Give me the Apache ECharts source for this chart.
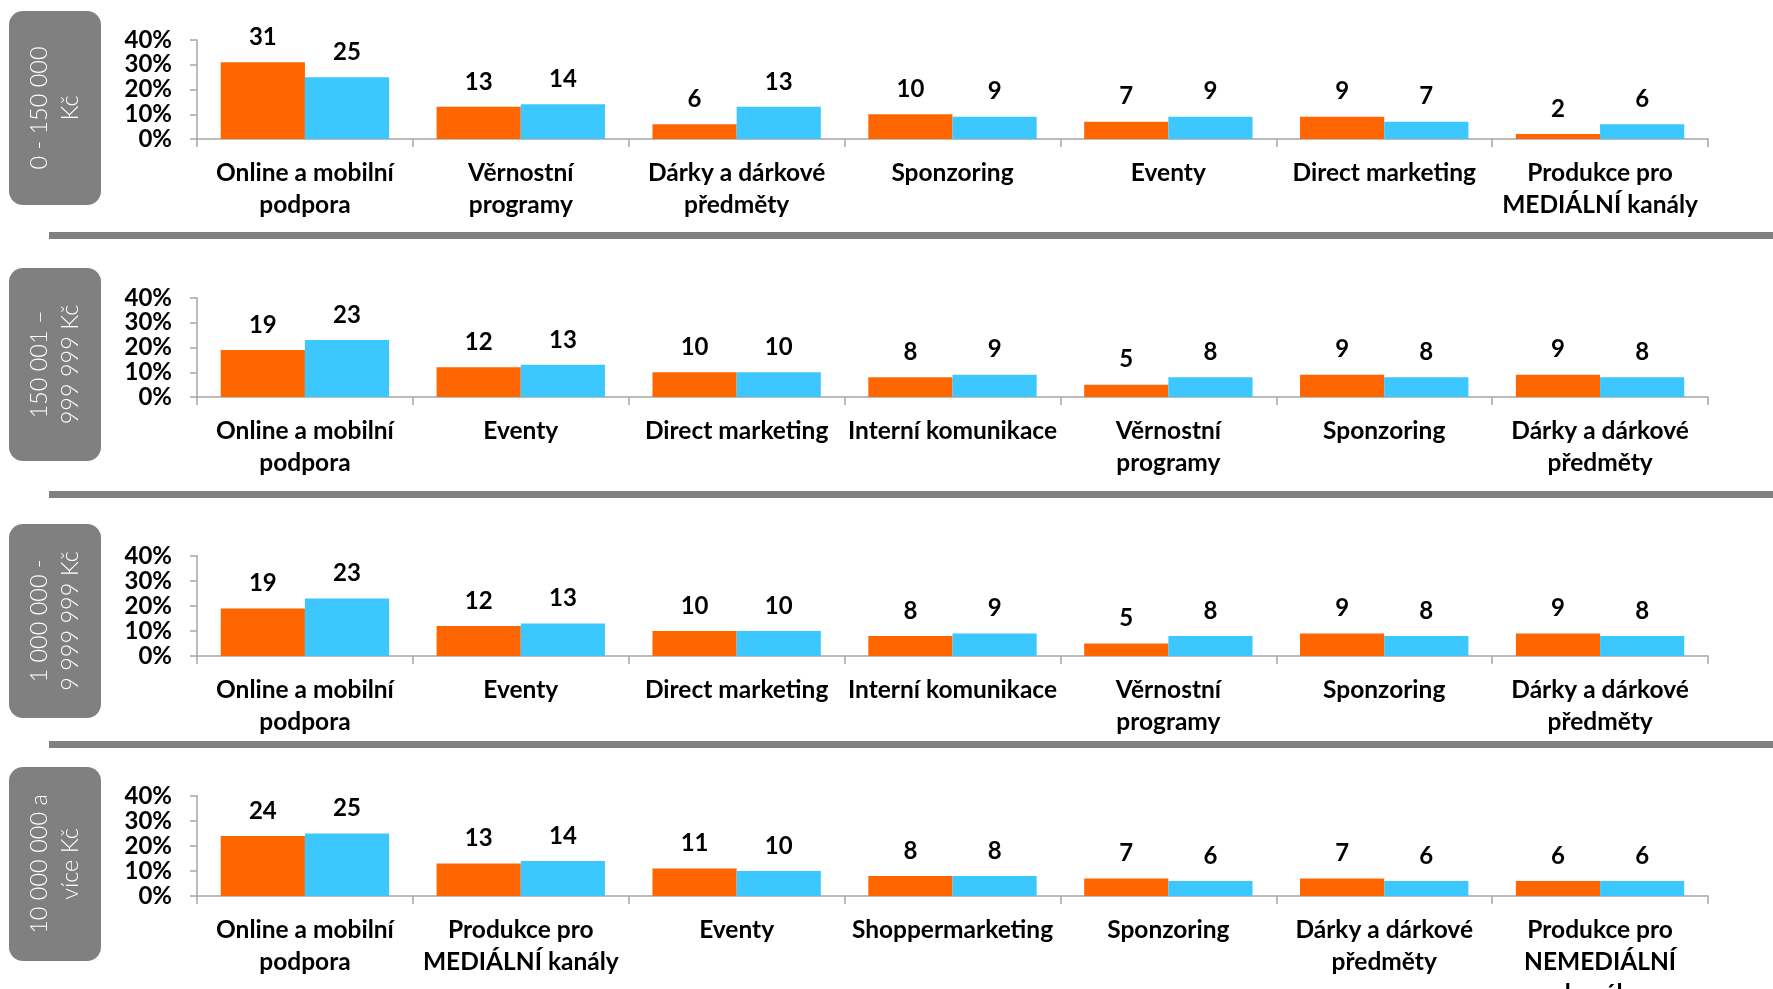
<!DOCTYPE html>
<html>
<head>
<meta charset="utf-8">
<script src="https://cdn.jsdelivr.net/npm/echarts@6/dist/echarts.min.js"></script>
<style>
html,body{margin:0;padding:0;background:#fff;}
#c{width:1773px;height:989px;}
</style>
</head>
<body>
<div id="c"></div>
<script>
// ---- data ----
const panelTitles = [
  "0 - 150 000\nKč",
  "150 001 –\n999 999 Kč",
  "1 000 000 -\n9 999 999 Kč",
  "10 000 000 a\nvíce Kč"
];
const categories1 = ["Online a mobilní\npodpora","Věrnostní\nprogramy","Dárky a dárkové\npředměty","Sponzoring","Eventy","Direct marketing","Produkce pro\nMEDIÁLNÍ kanály"];
const orange1 = [31,13,6,10,7,9,2];
const blue1   = [25,14,13,9,9,7,6];

const categories2 = ["Online a mobilní\npodpora","Eventy","Direct marketing","Interní komunikace","Věrnostní\nprogramy","Sponzoring","Dárky a dárkové\npředměty"];
const orange2 = [19,12,10,8,5,9,9];
const blue2   = [23,13,10,9,8,8,8];

const categories3 = ["Online a mobilní\npodpora","Eventy","Direct marketing","Interní komunikace","Věrnostní\nprogramy","Sponzoring","Dárky a dárkové\npředměty"];
const orange3 = [19,12,10,8,5,9,9];
const blue3   = [23,13,10,9,8,8,8];

const categories4 = ["Online a mobilní\npodpora","Produkce pro\nMEDIÁLNÍ kanály","Eventy","Shoppermarketing","Sponzoring","Dárky a dárkové\npředměty","Produkce pro\nNEMEDIÁLNÍ\nkanály"];
const orange4 = [24,13,11,8,7,7,6];
const blue4   = [25,14,10,8,6,6,6];

const yTicks = [0,10,20,30,40];

// ---- layout ----
const FONT = "Lato, 'Open Sans', sans-serif";
const ORANGE = "#FF6600", BLUE = "#3CC8FF", AXIS = "#A6A6A6", BOXGRAY = "#808080";
const gridTops = [40, 298, 556, 796];
const gridHs = [99, 99, 100, 100];
const boxes = [[11,194],[268,193],[524,194],[767,194]];
const seps = [232, 491, 741];

const panels = [
  [categories1, orange1, blue1],
  [categories2, orange2, blue2],
  [categories3, orange3, blue3],
  [categories4, orange4, blue4]
];

const grid = [], xAxis = [], yAxis = [], series = [];
panels.forEach((p, i) => {
  grid.push({left:197, right:65, top:gridTops[i], height:gridHs[i], containLabel:false, outerBoundsMode:'none'});
  xAxis.push({
    type:'category', gridIndex:i, data:p[0],
    axisLine:{show:true, lineStyle:{color:AXIS, width:1.5}},
    axisTick:{show:true, length:8, lineStyle:{color:AXIS, width:1.5}},
    axisLabel:{interval:0, color:'#000', fontFamily:FONT, fontWeight:'bold', fontSize:24.5, lineHeight:32, margin:18}
  });
  yAxis.push({
    type:'value', gridIndex:i, min:yTicks[0], max:yTicks[yTicks.length-1], interval:10,
    axisLine:{show:true, lineStyle:{color:AXIS, width:1.5}},
    axisTick:{show:true, length:7, lineStyle:{color:AXIS, width:1.5}},
    splitLine:{show:false},
    axisLabel:{formatter:'{value}%', color:'#000', fontFamily:FONT, fontWeight:'bold', fontSize:24, margin:25}
  });
  const lbl = {show:true, position:'top', distance:13, color:'#000', fontFamily:FONT, fontWeight:'bold', fontSize:24, formatter:'{c}'};
  series.push({type:'bar', xAxisIndex:i, yAxisIndex:i, data:p[1], itemStyle:{color:ORANGE}, barGap:'0%', barCategoryGap:'22%', label:lbl, silent:true});
  series.push({type:'bar', xAxisIndex:i, yAxisIndex:i, data:p[2], itemStyle:{color:BLUE}, barGap:'0%', barCategoryGap:'22%', label:lbl, silent:true});
});

const graphic = [];
boxes.forEach((b, i) => {
  graphic.push({type:'rect', left:9, top:b[0], shape:{width:92, height:b[1], r:14}, style:{fill:BOXGRAY}, silent:true});
  graphic.push({type:'text', x:55, y:b[0]+b[1]/2, rotation:Math.PI/2,
    style:{text:panelTitles[i], fill:'#fff', font:"300 23.5px " + FONT, align:'center', verticalAlign:'middle', lineHeight:31}, silent:true});
});
seps.forEach(y => {
  graphic.push({type:'rect', left:49, top:y, shape:{width:1724, height:7}, style:{fill:BOXGRAY}, silent:true});
});

const chart = echarts.init(document.getElementById('c'), null, {renderer:'canvas'});
chart.setOption({animation:false, grid, xAxis, yAxis, series, graphic});
</script>
</body>
</html>
